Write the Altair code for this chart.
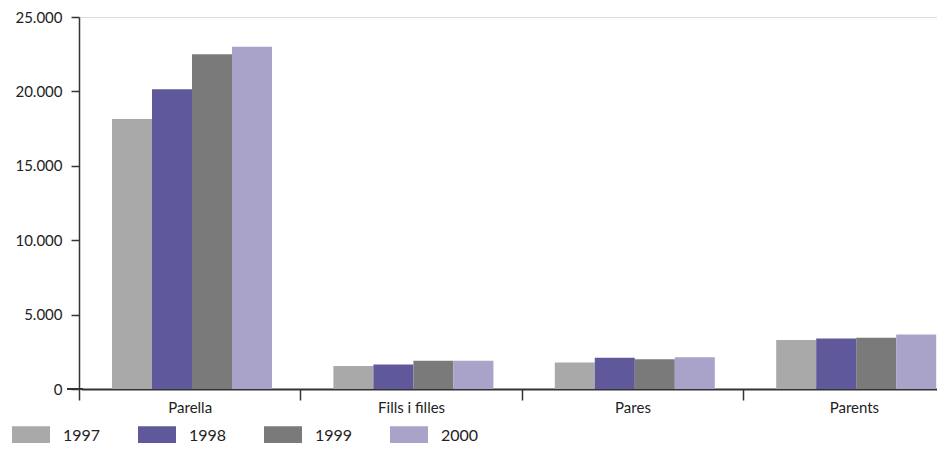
import altair as alt
import pandas as pd

categories = ["Parella", "Fills i filles", "Pares", "Parents"]
years = ["1997", "1998", "1999", "2000"]
v1997 = [18150, 1550, 1780, 3300]
v1998 = [20150, 1650, 2100, 3400]
v1999 = [22500, 1900, 2000, 3450]
v2000 = [23000, 1900, 2130, 3670]
colors = ["#a9a9a9", "#5f599b", "#7a7a7a", "#a9a3c9"]
y_ticks = [0, 5000, 10000, 15000, 20000, 25000]

rows = []
for yr, vals in zip(years, [v1997, v1998, v1999, v2000]):
    for c, v in zip(categories, vals):
        rows.append({"cat": c, "year": yr, "value": v})
df = pd.DataFrame(rows)

W = 858      # visible plot width (the last band runs to the page edge)
H = 372
STEP = 221.4
AX = "#333333"
TXT = "#222222"

bars = alt.Chart(df).mark_bar().encode(
    x=alt.X(
        "cat:N", sort=categories,
        scale=alt.Scale(range=[2.3, 2.3 + 4 * STEP], paddingInner=0.2773, paddingOuter=0.1387),
        axis=alt.Axis(title=None, labelAngle=0, bandPosition=0, tickOffset=-33,
                      labelOffset=30.7, tickSize=11,
                      labelPadding=0, labelFontSize=15, labelColor=TXT,
                      domainColor=AX, domainWidth=2, tickColor=AX, tickWidth=1.5),
    ),
    xOffset=alt.XOffset("year:N", sort=years,
                        scale=alt.Scale(paddingInner=0, paddingOuter=0)),
    y=alt.Y(
        "value:Q", scale=alt.Scale(domain=[0, 25000]),
        axis=alt.Axis(title=None, values=y_ticks, grid=False, tickSize=8,
                      labelPadding=9, labelFontSize=15, labelColor=TXT,
                      labelExpr="replace(format(datum.value, ','), ',', '.')",
                      domainColor=AX, domainWidth=1.5, tickColor=AX, tickWidth=1.5),
    ),
    color=alt.Color(
        "year:N", scale=alt.Scale(domain=years, range=colors),
        legend=alt.Legend(title=None, orient="none", legendX=-67, legendY=399.5,
                          direction="horizontal", columns=4,
                          symbolType="M-1,-0.5H1V0.5H-1Z", symbolSize=1444,
                          symbolStrokeWidth=0, symbolOpacity=1,
                          labelFontSize=16, labelOffset=13, labelColor=TXT,
                          columnPadding=37, padding=0),
    ),
)

ext = alt.Chart(pd.DataFrame({"a": [0]})).mark_rule(color=AX, strokeWidth=2).encode(
    x=alt.value(-12), x2=alt.value(4), y=alt.value(H)
)

chart = alt.layer(bars, ext).properties(
    width=W, height=H,
    autosize=alt.AutoSizeParams(type="none"),
    padding={"left": 71, "top": 9, "right": 0, "bottom": 54},
).configure_view(stroke=None).configure(font="Lato")

chart.save("out.html", embed_options={"renderer": "svg", "actions": False})
